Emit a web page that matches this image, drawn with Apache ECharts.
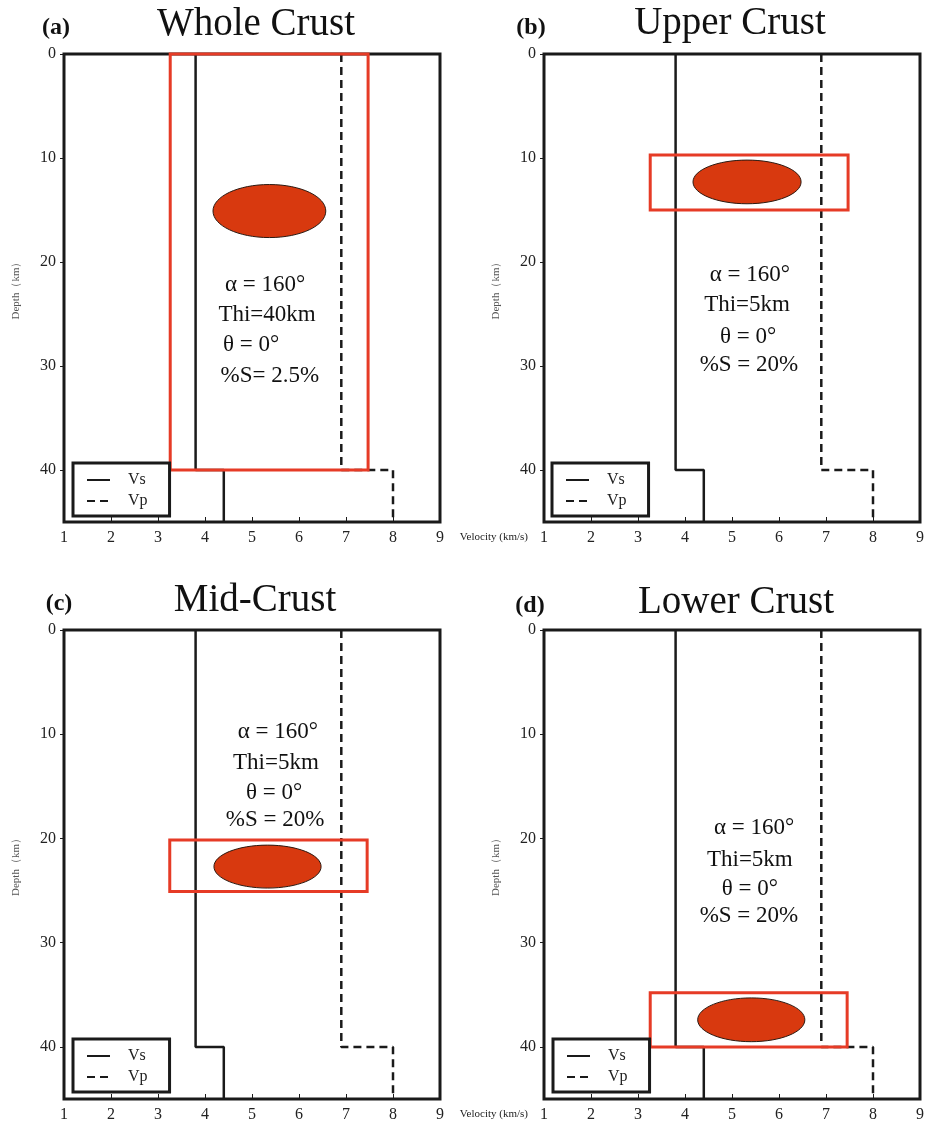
<!DOCTYPE html>
<html>
<head>
<meta charset="utf-8">
<script src="https://cdn.jsdelivr.net/npm/echarts@6/dist/echarts.min.js"></script>
<style>
    html, body { margin: 0; padding: 0; background: #fff; }
    #main { width: 927px; height: 1122px; }
</style>
</head>
<body>
<div id="main"></div>
<script>
// velocity model, same for all four panels
var depth = [0, 40, 40, 45];
var vs = [3.8, 3.8, 4.4, 4.4];
var vp = [6.9, 6.9, 8.0, 8.0];

var panelTitles = ['Whole Crust', 'Upper Crust', 'Mid-Crust', 'Lower Crust'];
var panelLetters = ['(a)', '(b)', '(c)', '(d)'];
var xTicks = [1, 9, 1];      // min, max, interval
var yTicks = [0, 45, 10];

// red box per panel: [vMin, vMax, zTop, zBottom]
var boxes = [
    [3.26, 7.47, 0, 40],
    [3.26, 7.47, 9.7, 15.0],
    [3.25, 7.45, 20.15, 25.1],
    [3.26, 7.45, 34.8, 40.0]
];
// anomaly ellipse per panel: [vCenter, zCenter, vRadius, zRadius]
var ellipses = [
    [5.37, 15.1, 1.2, 2.55],
    [5.32, 12.3, 1.15, 2.1],
    [5.33, 22.7, 1.14, 2.06],
    [5.41, 37.4, 1.14, 2.1]
];

// parameter notes
var notes = [
    ['α = 160°', 'Thi=40km', 'θ = 0°', '%S= 2.5%'],
    ['α = 160°', 'Thi=5km', 'θ = 0°', '%S = 20%'],
    ['α = 160°', 'Thi=5km', 'θ = 0°', '%S = 20%'],
    ['α = 160°', 'Thi=5km', 'θ = 0°', '%S = 20%']
];
var noteX = [
    [5.28, 5.32, 4.98, 5.38],
    [5.38, 5.32, 5.34, 5.36],
    [5.55, 5.51, 5.47, 5.49],
    [5.47, 5.38, 5.38, 5.36]
];
var noteY = [
    [22.2, 25.1, 28.0, 31.0],
    [21.25, 24.1, 27.2, 29.9],
    [9.8, 12.8, 15.6, 18.2],
    [19.0, 22.1, 24.8, 27.4]
];

var serif = '"Liberation Serif", "Times New Roman", serif';
var ink = '#1a1a1a';

// layout: [left, top, width, height]
var gridPos = [[64, 54, 376, 468], [544, 54, 376, 468], [64, 630, 376, 469], [544, 630, 376, 469]];
var legendPos = [[73, 463], [552, 463], [73, 1039], [553, 1039]];
var titlePos = [[256, 25], [730, 24], [255, 601], [736, 603]];
var letterPos = [[56, 28], [531, 28], [59, 604], [530, 606]];

function pairs(a, b) {
    var out = [];
    for (var i = 0; i < a.length; i++) {
        out.push([a[i], b[i]]);
    }
    return out;
}

var grids = [], xAxes = [], yAxes = [], series = [], legends = [], graphics = [];

for (var i = 0; i < 4; i++) {
    grids.push({
        left: gridPos[i][0], top: gridPos[i][1], width: gridPos[i][2], height: gridPos[i][3],
        show: true, borderColor: ink, borderWidth: 3, backgroundColor: 'transparent',
        outerBoundsMode: 'none'
    });
    var xa = {
        gridIndex: i, type: 'value', position: 'bottom',
        min: xTicks[0], max: xTicks[1], interval: xTicks[2],
        axisLine: { show: false, onZero: false },
        axisTick: { show: true, inside: true, length: 5, lineStyle: { color: ink, width: 1 } },
        axisLabel: { color: '#222', fontFamily: serif, fontSize: 16, margin: 8 },
        splitLine: { show: false }
    };
    if (i % 2 === 1) {
        xa.name = 'Velocity (km/s)';
        xa.nameLocation = 'start';
        xa.nameGap = 16;
        xa.nameTextStyle = { color: '#222', fontFamily: serif, fontSize: 11, verticalAlign: 'top', padding: [10, 0, 0, 0] };
    }
    xAxes.push(xa);
    yAxes.push({
        gridIndex: i, type: 'value', inverse: true, position: 'left',
        min: yTicks[0], max: yTicks[1], interval: yTicks[2],
        name: 'Depth（km）', nameLocation: 'middle', nameGap: 42,
        nameTextStyle: { color: '#555', fontFamily: serif, fontSize: 11 },
        axisLine: { show: false, onZero: false },
        axisTick: { show: true, length: 4, lineStyle: { color: ink, width: 1 } },
        axisLabel: { color: '#222', fontFamily: serif, fontSize: 16, margin: 8, showMaxLabel: false },
        splitLine: { show: false }
    });

    series.push({
        name: 'Vs', type: 'line', xAxisIndex: i, yAxisIndex: i,
        data: pairs(vs, depth), symbol: 'none', z: 2,
        lineStyle: { color: ink, width: 2.5, type: 'solid' },
        itemStyle: { color: ink }
    });
    series.push({
        name: 'Vp', type: 'line', xAxisIndex: i, yAxisIndex: i,
        data: pairs(vp, depth), symbol: 'none', z: 2,
        lineStyle: { color: ink, width: 2.5, type: [8, 5] },
        itemStyle: { color: ink }
    });
    // red box + ellipse
    series.push({
        type: 'custom', xAxisIndex: i, yAxisIndex: i, z: 3, silent: true,
        data: [boxes[i].concat(ellipses[i])],
        renderItem: function (params, api) {
            var p1 = api.coord([api.value(0), api.value(2)]);
            var p2 = api.coord([api.value(1), api.value(3)]);
            var c = api.coord([api.value(4), api.value(5)]);
            var r = api.size([api.value(6), api.value(7)]);
            return {
                type: 'group',
                children: [{
                    type: 'ellipse',
                    shape: { cx: c[0], cy: c[1], rx: Math.abs(r[0]), ry: Math.abs(r[1]) },
                    style: { fill: '#d8390f', stroke: '#2b1a12', lineWidth: 1 }
                }, {
                    type: 'rect',
                    shape: {
                        x: Math.min(p1[0], p2[0]), y: Math.min(p1[1], p2[1]),
                        width: Math.abs(p2[0] - p1[0]), height: Math.abs(p2[1] - p1[1])
                    },
                    style: { fill: null, stroke: '#e63b26', lineWidth: 3 }
                }]
            };
        }
    });
    // parameter text
    (function (k) {
        series.push({
            type: 'custom', xAxisIndex: k, yAxisIndex: k, z: 4, silent: true,
            data: pairs(noteX[k], noteY[k]),
            renderItem: function (params, api) {
                var p = api.coord([api.value(0), api.value(1)]);
                return {
                    type: 'text', x: p[0], y: p[1],
                    style: {
                        text: notes[k][params.dataIndex],
                        fontFamily: serif, fontSize: 23, fill: '#111',
                        align: 'center', verticalAlign: 'middle'
                    }
                };
            }
        });
    })(i);

    legends.push({
        data: ['Vs', 'Vp'], orient: 'vertical',
        left: legendPos[i][0], top: legendPos[i][1],
        padding: [9, 22, 7, 13], itemGap: 5, itemWidth: 23, itemHeight: 14,
        borderColor: ink, borderWidth: 3, backgroundColor: '#fff',
        selectedMode: false,
        itemStyle: { color: 'rgba(0,0,0,0)', borderColor: 'rgba(0,0,0,0)', borderWidth: 0 },
        textStyle: { color: '#222', fontFamily: serif, fontSize: 16, padding: [0, 0, 0, 13] }
    });

    graphics.push({
        type: 'text', x: titlePos[i][0], y: titlePos[i][1],
        style: { text: panelTitles[i], fontFamily: serif, fontSize: 39, fill: '#111', align: 'center', verticalAlign: 'middle' }
    });
    graphics.push({
        type: 'text', x: letterPos[i][0], y: letterPos[i][1],
        style: { text: panelLetters[i], fontFamily: serif, fontSize: 24, fontWeight: 'bold', fill: '#111', align: 'center', verticalAlign: 'middle' }
    });
}

var myChart = echarts.init(document.getElementById('main'));
myChart.setOption({
    animation: false,
    backgroundColor: '#fff',
    grid: grids,
    xAxis: xAxes,
    yAxis: yAxes,
    legend: legends,
    graphic: graphics,
    series: series
});
</script>
</body>
</html>
